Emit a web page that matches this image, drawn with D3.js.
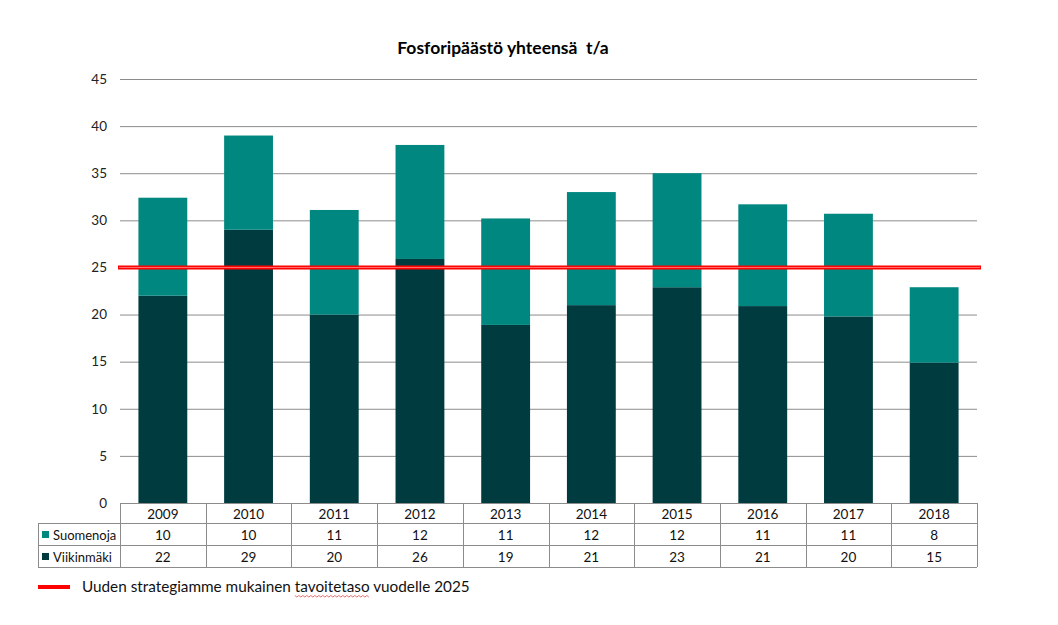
<!DOCTYPE html>
<html>
<head>
<meta charset="utf-8">
<script src="https://cdn.jsdelivr.net/npm/d3@7"></script>
<style>
  body { margin: 0; background: #fff; }
  svg { display: block; }
  text { white-space: pre; }
</style>
</head>
<body>
<svg id="chart" width="1058" height="625"></svg>
<script>
const years = ['2009', '2010', '2011', '2012', '2013', '2014', '2015', '2016', '2017', '2018'];
const viikinmaki = [22.0, 29.0, 20.0, 25.9, 18.9, 21.0, 22.9, 20.9, 19.8, 14.9];
const suomenoja = [10.4, 10.0, 11.1, 12.1, 11.3, 12.0, 12.1, 10.8, 10.9, 8.0];
const yTicks = [0, 5, 10, 15, 20, 25, 30, 35, 40, 45];
const target = 25;
const title = 'Fosforipäästö yhteensä  t/a';
const legendText = ['Uuden strategiamme mukainen ', 'tavoitetaso', ' vuodelle 2025'];

const series = [
  { name: 'Suomenoja', values: suomenoja, color: '#00877f' },
  { name: 'Viikinmäki', values: viikinmaki, color: '#003b40' }
];

const font = 'Lato, Open Sans, sans-serif';
const svg = d3.select('#chart').attr('font-family', font);

const plotL = 120, plotR = 977, plotT = 79, plotB = 503;
const x = d3.scaleBand().domain(years).range([plotL, plotR]).paddingInner(0.43).paddingOuter(0.215);
const cols = d3.scaleBand().domain(years).range([plotL, plotR]);
const y = d3.scaleLinear().domain([0, 45]).range([plotB, plotT]);

svg.append('text')
  .attr('x', 503).attr('y', 54)
  .attr('text-anchor', 'middle')
  .attr('font-size', 17.5).attr('font-weight', 'bold')
  .attr('xml:space', 'preserve')
  .text(title);

// grid
svg.append('g')
  .selectAll('line')
  .data(yTicks.filter(t => t > 0))
  .join('line')
  .attr('x1', plotL).attr('x2', plotR)
  .attr('y1', d => y(d) + 0.5).attr('y2', d => y(d) + 0.5)
  .attr('stroke', '#8c8c8c');

svg.append('g')
  .selectAll('text')
  .data(yTicks)
  .join('text')
  .attr('x', 107).attr('y', d => y(d))
  .attr('dy', '0.35em')
  .attr('text-anchor', 'end')
  .attr('font-size', 13.5)
  .attr('fill', '#222')
  .text(d => d);

// stacked bars, Viikinmäki at bottom
const stackData = years.map((yr, i) => ({ year: yr, 'Viikinmäki': viikinmaki[i], 'Suomenoja': suomenoja[i] }));
const stacked = d3.stack().keys(['Viikinmäki', 'Suomenoja'])(stackData);
const colorOf = { 'Viikinmäki': '#003b40', 'Suomenoja': '#00877f' };

svg.append('g')
  .selectAll('g')
  .data(stacked)
  .join('g')
  .attr('fill', d => colorOf[d.key])
  .selectAll('rect')
  .data(d => d)
  .join('rect')
  .attr('x', d => x(d.data.year))
  .attr('width', x.bandwidth())
  .attr('y', d => y(d[1]))
  .attr('height', d => y(d[0]) - y(d[1]));

// target line
const ty = y(target);
svg.append('line')
  .attr('x1', plotL - 2).attr('x2', plotR + 4)
  .attr('y1', ty).attr('y2', ty)
  .attr('stroke', '#ff0000').attr('stroke-width', 4);
svg.append('line')
  .attr('x1', plotL - 1).attr('x2', plotR + 3)
  .attr('y1', ty).attr('y2', ty)
  .attr('stroke', '#ff8c8c').attr('stroke-width', 0.8);

// data table
const rowH = [plotB, 523, 545, 567];
const tableLeft = 38;
const tg = svg.append('g').attr('stroke', '#8c8c8c').attr('fill', 'none');
tg.append('line').attr('x1', plotL).attr('x2', plotR).attr('y1', plotB + 0.5).attr('y2', plotB + 0.5);
[1, 2, 3].forEach(r => {
  tg.append('line').attr('x1', tableLeft).attr('x2', plotR)
    .attr('y1', rowH[r] + 0.5).attr('y2', rowH[r] + 0.5);
});
const vx = years.map(yr => cols(yr)).concat([plotR]);
vx.forEach(vv => {
  tg.append('line').attr('x1', Math.round(vv) + 0.5).attr('x2', Math.round(vv) + 0.5)
    .attr('y1', plotB).attr('y2', rowH[3]);
});
tg.append('line').attr('x1', tableLeft + 0.5).attr('x2', tableLeft + 0.5)
  .attr('y1', rowH[1]).attr('y2', rowH[3]);

svg.append('g')
  .selectAll('text')
  .data(years)
  .join('text')
  .attr('x', d => cols(d) + cols.bandwidth() / 2)
  .attr('y', (rowH[0] + rowH[1]) / 2 + 1)
  .attr('dy', '0.35em')
  .attr('text-anchor', 'middle')
  .attr('font-size', 13.5)
  .attr('fill', '#111')
  .text(d => d);

series.forEach((s, r) => {
  const cy = (rowH[r + 1] + rowH[r + 2]) / 2 + 1;
  const g = svg.append('g');
  g.append('rect').attr('x', 42).attr('y', cy - 4).attr('width', 7).attr('height', 7).attr('fill', s.color);
  g.append('text').attr('x', 53).attr('y', cy).attr('dy', '0.35em')
    .attr('font-size', 13).attr('fill', '#111').text(s.name);
  g.selectAll('text.v')
    .data(s.values)
    .join('text')
    .attr('class', 'v')
    .attr('x', (d, i) => cols(years[i]) + cols.bandwidth() / 2)
    .attr('y', cy)
    .attr('dy', '0.35em')
    .attr('text-anchor', 'middle')
    .attr('font-size', 13.5)
    .attr('fill', '#111')
    .text(d => d3.format('.0f')(d));
});

// legend
svg.append('line')
  .attr('x1', 38).attr('x2', 70).attr('y1', 587).attr('y2', 587)
  .attr('stroke', '#ff0000').attr('stroke-width', 4);
const lt = svg.append('text')
  .attr('x', 82).attr('y', 587).attr('dy', '0.35em')
  .attr('font-size', 15.3).attr('fill', '#111');
legendText.forEach(t => lt.append('tspan').text(t));

// spell-check squiggle under the middle word
const tsp = lt.selectAll('tspan').nodes();
const wStart = tsp[1].getStartPositionOfChar(0).x;
const wEnd = tsp[1].getEndPositionOfChar(legendText[1].length - 1).x;
const wave = [];
for (let px = wStart; px <= wEnd; px += 2) wave.push([px, 596 + ((Math.round((px - wStart) / 2) % 2) ? 1 : -0.5)]);
svg.append('path')
  .attr('d', d3.line()(wave))
  .attr('fill', 'none').attr('stroke', '#e03030').attr('stroke-width', 0.7);
</script>
</body>
</html>
